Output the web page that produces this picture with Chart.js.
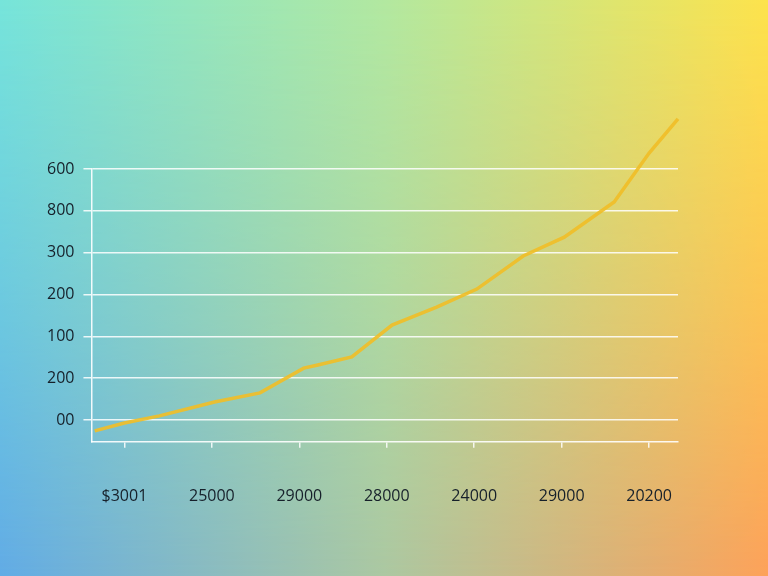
<!DOCTYPE html>
<html>
<head>
<meta charset="utf-8">
<script src="https://cdn.jsdelivr.net/npm/chart.js@4/dist/chart.umd.min.js"></script>
<style>
    html, body { margin: 0; padding: 0; }
    body {
        width: 768px;
        height: 576px;
        position: relative;
        overflow: hidden;
        background: linear-gradient(to right, #62ace6 0%, #acc8a2 50%, #fda25a 100%);
    }
    .topLayer {
        position: absolute;
        left: 0; top: 0; width: 768px; height: 576px;
        background: linear-gradient(to right, #76e4da 0%, #b2e8a0 50%, #fde34c 100%);
        -webkit-mask-image: linear-gradient(to bottom, #000 0%, rgba(0,0,0,0.55) 50%, transparent 100%);
        mask-image: linear-gradient(to bottom, #000 0%, rgba(0,0,0,0.55) 50%, transparent 100%);
    }
    .chartBox { position: absolute; left: 0; top: 0; width: 768px; height: 576px; }
</style>
</head>
<body>
<div class="topLayer"></div>
<div class="chartBox"><canvas id="lineChart" width="768" height="576"></canvas></div>
<script>
// x positions of the line's vertices (tick units) and their values
const pointX = [-0.34, 0, 0.4, 1.03, 1.55, 2.05, 2.2, 2.6, 3.06, 3.57, 4.03, 4.56, 5.03, 5.6, 6.0, 6.33];
const pointY = [-26, -7, 10, 43, 65, 124, 131, 151, 227, 270, 313, 392, 437, 521, 638, 720];

const xTickLabels = ['$3001', '25000', '29000', '28000', '24000', '29000', '20200'];
const yTickLabels = ['00', '200', '100', '200', '300', '800', '600'];

const ctx = document.getElementById('lineChart').getContext('2d');
new Chart(ctx, {
    type: 'line',
    data: {
        datasets: [{
            data: pointX.map((x, i) => ({ x: x, y: pointY[i] })),
            borderColor: 'rgba(240,190,40,0.92)',
            borderWidth: 3.5,
            pointRadius: 0,
            tension: 0,
            clip: false
        }]
    },
    options: {
        responsive: false,
        animation: false,
        layout: { padding: { top: 169, right: 90, bottom: 31, left: 38 } },
        plugins: { legend: { display: false }, tooltip: { enabled: false } },
        scales: {
            x: {
                type: 'linear',
                min: -0.377,
                max: 6.33,
                afterBuildTicks: axis => { axis.ticks = xTickLabels.map((t, i) => ({ value: i })); },
                ticks: {
                    callback: (v, i) => xTickLabels[i],
                    color: '#16202a',
                    font: { family: 'Open Sans', size: 16 },
                    padding: 39,
                    maxRotation: 0
                },
                grid: {
                    display: true,
                    drawOnChartArea: false,
                    color: 'rgba(255,255,255,0.85)',
                    tickLength: 6,
                    lineWidth: 1.5
                },
                border: { color: 'rgba(255,255,255,0.9)', width: 1.5 }
            },
            y: {
                min: -52,
                max: 600,
                afterBuildTicks: axis => { axis.ticks = yTickLabels.map((t, i) => ({ value: i * 100 })); },
                ticks: {
                    callback: (v, i) => yTickLabels[i],
                    color: '#16202a',
                    font: { family: 'Open Sans', size: 16 },
                    padding: 9
                },
                grid: {
                    color: 'rgba(255,255,255,0.85)',
                    lineWidth: 1.5,
                    tickLength: 8
                },
                border: { color: 'rgba(255,255,255,0.9)', width: 1.5 }
            }
        }
    }
});
</script>
</body>
</html>
